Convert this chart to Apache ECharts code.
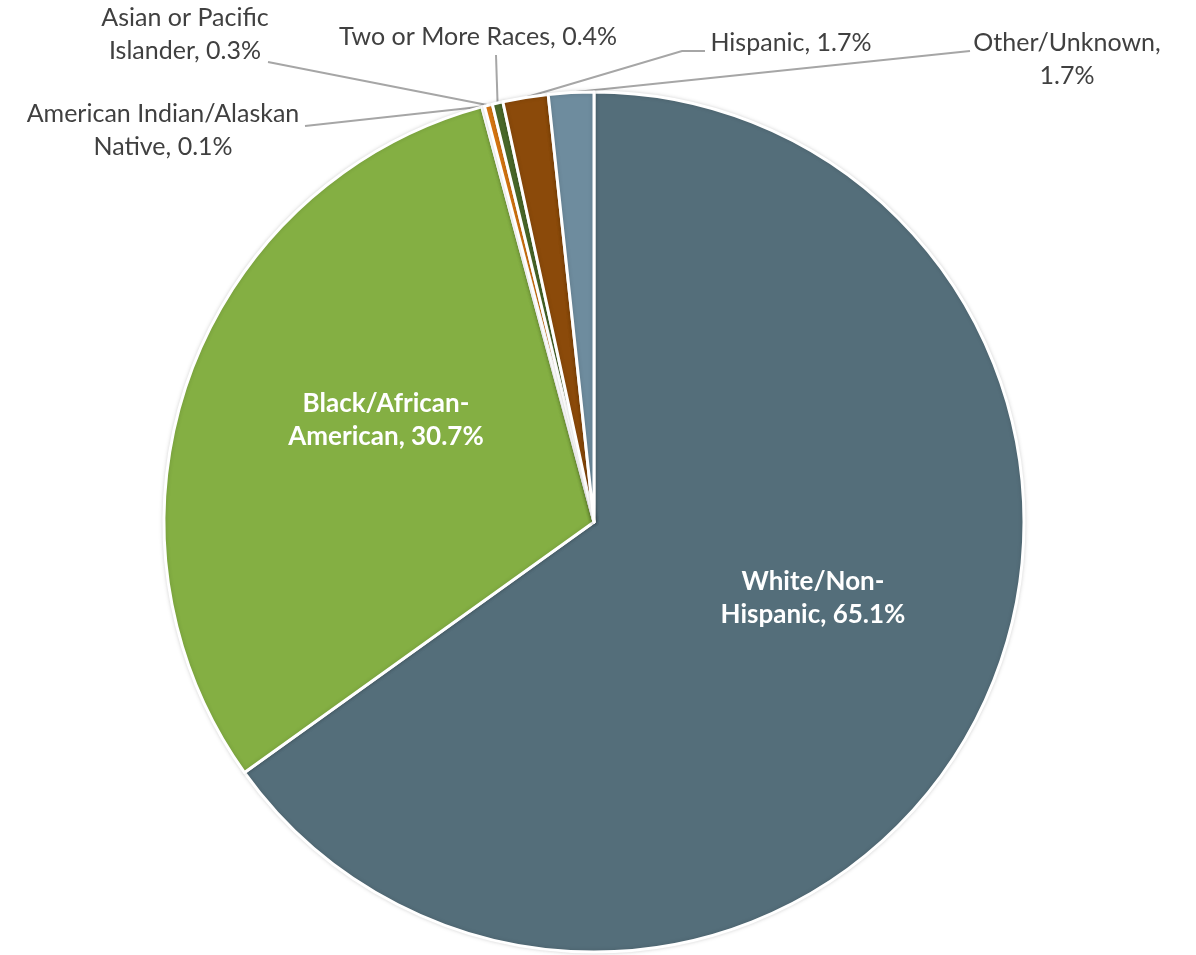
<!DOCTYPE html>
<html><head><meta charset="utf-8">
<script src="https://cdn.jsdelivr.net/npm/echarts@6/dist/echarts.min.js"></script>
<style>html,body{margin:0;padding:0;background:#fff}#c{width:1196px;height:955px}</style>
</head><body><div id="c"></div>
<script>
const categories = ["White/Non-Hispanic","Black/African-American","American Indian/Alaskan Native","Asian or Pacific Islander","Two or More Races","Hispanic","Other/Unknown"];
const values = [65.1, 30.7, 0.1, 0.3, 0.4, 1.7, 1.7];
const labelTexts = ["White/Non-\nHispanic, 65.1%","Black/African-\nAmerican, 30.7%","American Indian/Alaskan\nNative, 0.1%","Asian or Pacific\nIslander, 0.3%","Two or More Races, 0.4%","Hispanic, 1.7%","Other/Unknown,\n1.7%"];
const colors = ["#546E7A","#84AF43","#E07B12","#E07B12","#4B6A2A","#8B4A0A","#6E8C9E"];

// label placement (layout only), indexed like categories
const layout = [
  {x: 813, y: 598},
  {x: 386, y: 420},
  {x: 163, y: 130, line: [[305,126]]},
  {x: 185, y: 34, line: [[268,62]]},
  {x: 478, y: 37, line: [[496,55]]},
  {x: 791, y: 43, line: [[682,51],[705,51]]},
  {x: 1067, y: 59, line: [[970,51]]}
];
const insideIdx = [0, 1];

const chart = echarts.init(document.getElementById('c'));
chart.setOption({
  animation: false,
  series: [{
    type: 'pie',
    center: [594, 522],
    radius: [0, 430],
    startAngle: 90,
    clockwise: true,
    avoidLabelOverlap: false,
    itemStyle: {borderColor: '#fff', borderWidth: 3, shadowBlur: 4, shadowColor: 'rgba(0,0,0,0.15)'},
    labelLine: {show: true, length: 10, length2: 10, lineStyle: {color: '#A6A6A6', width: 2}},
    data: categories.map((n, i) => ({
      name: n, value: values[i],
      itemStyle: {color: colors[i]},
      label: insideIdx.includes(i) ?
        {show: true, position: 'inside', formatter: labelTexts[i], color: '#fff', fontWeight: 'bold', fontSize: 26, fontFamily: 'Lato', lineHeight: 33, align: 'center'} :
        {show: true, position: 'outside', formatter: labelTexts[i], color: '#404040', fontSize: 25, fontFamily: 'Lato', lineHeight: 33, align: 'center'},
      labelLine: {show: !insideIdx.includes(i)}
    })),
    labelLayout: function (p) {
      const L = layout[p.dataIndex];
      if (!L) return {};
      const r = {x: L.x, y: L.y, align: 'center', verticalAlign: 'middle'};
      if (L.line && p.labelLinePoints) {
        const s = p.labelLinePoints[0];
        const pts = [s].concat(L.line);
        if (pts.length === 2) pts.push(L.line[0]);
        r.labelLinePoints = pts.slice(0, 3);
      }
      return r;
    }
  }]
});
</script></body></html>
